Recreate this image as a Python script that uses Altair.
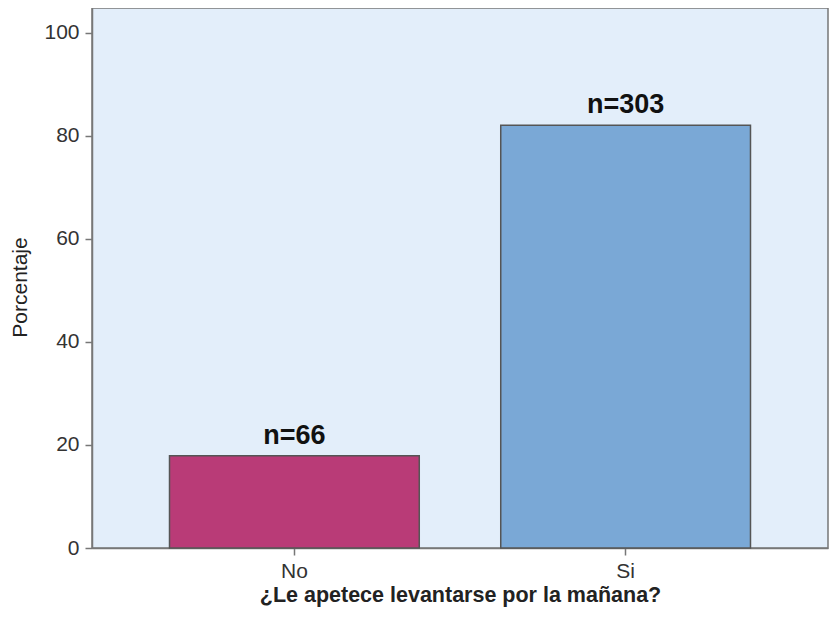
import altair as alt
import pandas as pd

categories = ["No", "Si"]
percentages = [17.9, 82.1]
counts = [66, 303]
labels = ["n=66", "n=303"]
colors = ["#B93B77", "#7AA8D6"]

df = pd.DataFrame({"cat": categories, "pct": percentages, "n": counts, "label": labels})

FONT = "Liberation Sans"

x = alt.X("cat:N", sort=categories,
          scale=alt.Scale(paddingInner=0.246, paddingOuter=0.234),
          axis=alt.Axis(title="¿Le apetece levantarse por la mañana?", labelAngle=0,
                        labelFontSize=21, labelColor="#333333", labelFont=FONT,
                        titleFont=FONT, titleFontSize=21.5, titleFontWeight="bold",
                        titleColor="#222222", titleBaseline="alphabetic", titleY=53,
                        tickSize=7, tickColor="#777777", tickWidth=1.5,
                        domainColor="#777777", domainWidth=1.5, labelPadding=5))
y = alt.Y("pct:Q", scale=alt.Scale(domain=[0, 104.85], nice=False),
          axis=alt.Axis(title="Porcentaje", values=[0, 20, 40, 60, 80, 100], grid=False,
                        labelFontSize=21, labelColor="#333333", labelFont=FONT,
                        titleFont=FONT, titleFontSize=21, titleFontWeight="normal",
                        titleColor="#222222", titleAngle=270, titleBaseline="middle",
                        titleX=-72, titleY=279,
                        tickSize=7, tickColor="#777777", tickWidth=1.5,
                        domainColor="#777777", domainWidth=1.5, labelPadding=6))

bars = alt.Chart(df).mark_bar(stroke="#555555", strokeWidth=1.5).encode(
    x=x, y=y,
    color=alt.Color("cat:N", scale=alt.Scale(domain=categories, range=colors), legend=None),
)

text = alt.Chart(df).mark_text(font=FONT, fontSize=27, fontWeight="bold", color="#111111",
                               baseline="alphabetic", dy=-12).encode(
    x=alt.X("cat:N", sort=categories),
    y=alt.Y("pct:Q"),
    text="label:N",
)

chart = alt.layer(bars, text).properties(
    width=736, height=540,
    padding={"left": 84, "top": 0, "right": 1, "bottom": 60},
    autosize=alt.AutoSizeParams(type="none"),
    background="white",
).configure_view(
    fill="#E3EEFA", stroke="#777777", strokeWidth=1.5
)

chart.save("out.html", embed_options={"renderer": "svg", "actions": False})
